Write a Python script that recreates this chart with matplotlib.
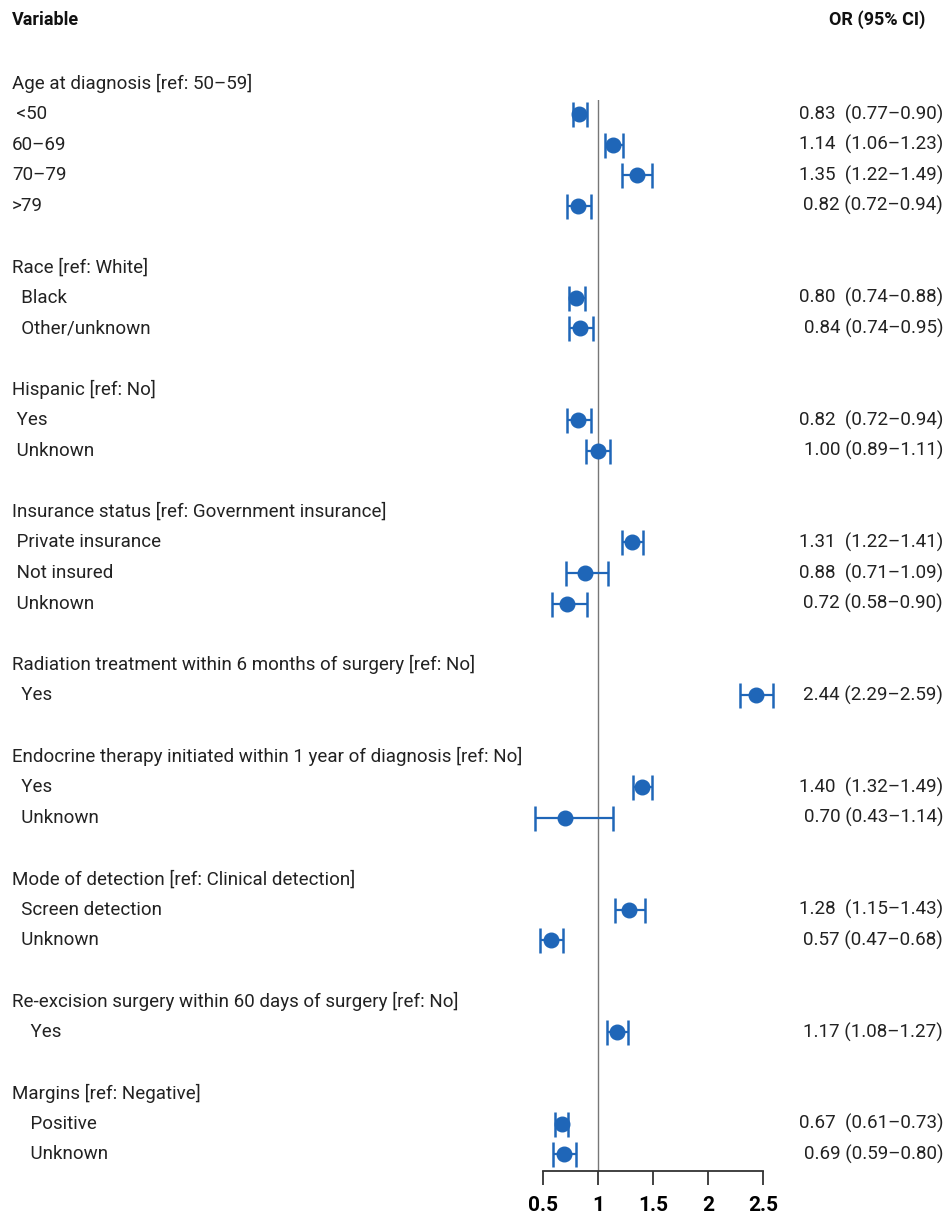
import matplotlib
matplotlib.use("Agg")
import matplotlib.pyplot as plt
import matplotlib.transforms as mtransforms
import numpy as np

plt.rcParams['font.family'] = ['Roboto', 'DejaVu Sans']

# rows: header rows have OR None, blank rows are ""
labels = [
    "Age at diagnosis [ref: 50\u201359]", " <50", "60\u201369", "70\u201379", ">79", "",
    "Race [ref: White]", "  Black", "  Other/unknown", "",
    "Hispanic [ref: No]", " Yes", " Unknown", "",
    "Insurance status [ref: Government insurance]", " Private insurance", " Not insured", " Unknown", "",
    "Radiation treatment within 6 months of surgery [ref: No]", "  Yes", "",
    "Endocrine therapy initiated within 1 year of diagnosis [ref: No]", "  Yes", "  Unknown", "",
    "Mode of detection [ref: Clinical detection]", "  Screen detection", "  Unknown", "",
    "Re-excision surgery within 60 days of surgery [ref: No]", "    Yes", "",
    "Margins [ref: Negative]", "    Positive", "    Unknown",
]
odds = [None, 0.83, 1.14, 1.35, 0.82, None,
        None, 0.80, 0.84, None,
        None, 0.82, 1.00, None,
        None, 1.31, 0.88, 0.72, None,
        None, 2.44, None,
        None, 1.40, 0.70, None,
        None, 1.28, 0.57, None,
        None, 1.17, None,
        None, 0.67, 0.69]
lows = [None, 0.77, 1.06, 1.22, 0.72, None,
        None, 0.74, 0.74, None,
        None, 0.72, 0.89, None,
        None, 1.22, 0.71, 0.58, None,
        None, 2.29, None,
        None, 1.32, 0.43, None,
        None, 1.15, 0.47, None,
        None, 1.08, None,
        None, 0.61, 0.59]
highs = [None, 0.90, 1.23, 1.49, 0.94, None,
         None, 0.88, 0.95, None,
         None, 0.94, 1.11, None,
         None, 1.41, 1.09, 0.90, None,
         None, 2.59, None,
         None, 1.49, 1.14, None,
         None, 1.43, 0.68, None,
         None, 1.27, None,
         None, 0.73, 0.80]
ci_text = ["", "0.83  (0.77\u20130.90)", "1.14  (1.06\u20131.23)", "1.35  (1.22\u20131.49)", "0.82 (0.72\u20130.94)", "",
           "", "0.80  (0.74\u20130.88)", "0.84 (0.74\u20130.95)", "",
           "", "0.82  (0.72\u20130.94)", "1.00 (0.89\u20131.11)", "",
           "", "1.31  (1.22\u20131.41)", "0.88  (0.71\u20131.09)", "0.72 (0.58\u20130.90)", "",
           "", "2.44 (2.29\u20132.59)", "",
           "", "1.40  (1.32\u20131.49)", "0.70 (0.43\u20131.14)", "",
           "", "1.28  (1.15\u20131.43)", "0.57 (0.47\u20130.68)", "",
           "", "1.17 (1.08\u20131.27)", "",
           "", "0.67  (0.61\u20130.73)", "0.69 (0.59\u20130.80)"]
xticks = [0.5, 1, 1.5, 2, 2.5]
xticklabels = ["0.5", "1", "1.5", "2", "2.5"]

blue = "#1f66b8"
W, H = 947, 1217
fig = plt.figure(figsize=(W / 100, H / 100), dpi=100)
ax = fig.add_axes([543 / W, 1 - 1171 / H, 220 / W, (1171 - 100) / H])

rows = np.arange(len(labels))
for i in rows:
    if odds[i] is None:
        continue
    ax.errorbar(odds[i], i + 0.05, xerr=[[odds[i] - lows[i]], [highs[i] - odds[i]]],
                fmt='o', color=blue, ms=10.5, elinewidth=1.6, capsize=9,
                capthick=1.8, clip_on=False, zorder=3)

ax.axvline(1, color="#777777", lw=1, zorder=1)
ax.set_xlim(0.5, 2.5)
ax.set_ylim(35.59, 0.59)
ax.set_yticks([])
for s in ["top", "right", "left"]:
    ax.spines[s].set_visible(False)
ax.spines["bottom"].set_color("#333333")
ax.spines["bottom"].set_linewidth(1.3)
ax.set_xticks(xticks)
ax.set_xticklabels(xticklabels, fontsize=15, fontweight="bold")
ax.tick_params(axis="x", length=10, width=1.3, color="#333333", pad=8)

tr = mtransforms.blended_transform_factory(fig.transFigure, ax.transData)
for i in rows:
    if labels[i]:
        ax.text(12 / W, i + 0.05, labels[i], transform=tr, ha="left", va="center",
                fontsize=13.5, color="#222222")
    if ci_text[i]:
        ax.text(943 / W, i + 0.05, ci_text[i], transform=tr, ha="right", va="center",
                fontsize=13.5, color="#222222")

fig.text(12 / W, 1 - 20 / H, "Variable", ha="left", va="center",
         fontsize=13, fontweight="bold", color="#111111")
fig.text(925 / W, 1 - 20 / H, "OR (95% CI)", ha="right", va="center",
         fontsize=13, fontweight="bold", color="#111111")

fig.savefig("out.png", dpi=100)
